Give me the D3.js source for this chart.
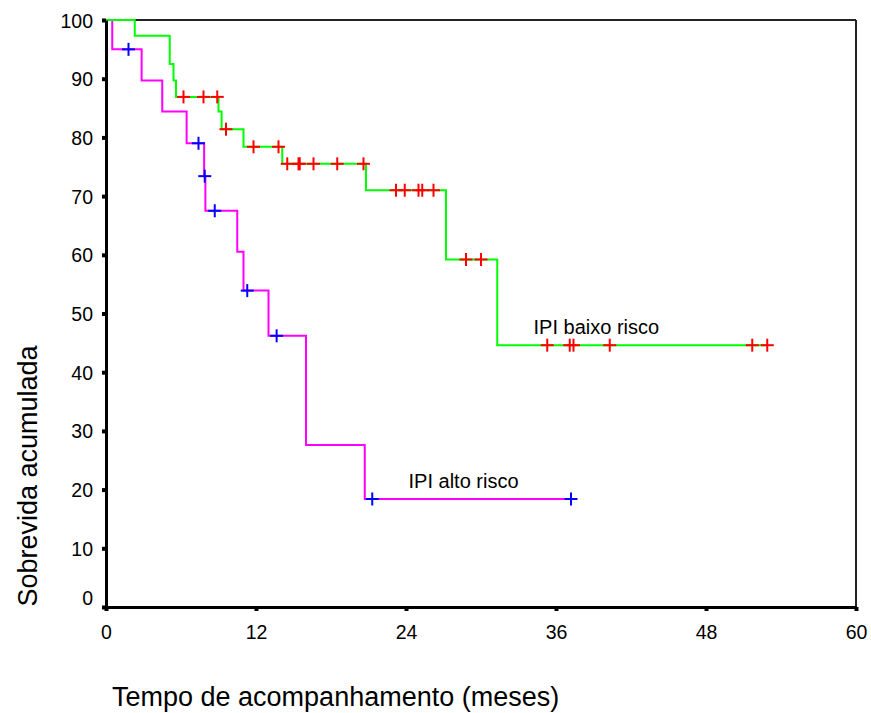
<!DOCTYPE html>
<html>
<head>
<meta charset="utf-8">
<script src="https://cdn.jsdelivr.net/npm/d3@7"></script>
<style>
  html, body { margin: 0; padding: 0; background: #fff; }
  svg { display: block; }
  text { font-family: "Liberation Sans", Arial, sans-serif; fill: #000; }
</style>
</head>
<body>
<svg id="chart" width="871" height="713"></svg>
<script>
// ---------- data ----------
const xTicks = [0, 12, 24, 36, 48, 60];
const yTicks = [0, 10, 20, 30, 40, 50, 60, 70, 80, 90, 100];

// IPI baixo risco (green) – event times (months) and survival (%) after each step
const lowTimes = [0, 2.3, 5.1, 5.4, 5.6, 9.0, 9.25, 11.0, 14.1, 20.8, 27.2, 31.3];
const lowSurv  = [100, 97.3, 92.5, 89.7, 86.9, 84.4, 81.4, 78.4, 75.5, 71.0, 59.2, 44.6];
const lowCensor = [6.2, 7.8, 8.9, 9.6, 11.8, 13.8, 14.5, 15.4, 15.5, 16.6, 18.5, 20.6,
                   23.2, 23.9, 25.0, 25.3, 26.2, 28.8, 30.0, 35.3, 37.1, 37.4, 40.3, 51.7, 52.9];
const lowEnd = 52.9;

// IPI alto risco (magenta)
const highTimes = [0, 0.5, 2.85, 4.5, 6.45, 7.85, 7.95, 10.5, 11.0, 13.0, 16.0, 20.7];
const highSurv  = [100, 95.0, 89.7, 84.4, 79.0, 73.4, 67.5, 60.5, 53.9, 46.2, 27.6, 18.4];
const highCensor = [1.8, 7.4, 7.9, 8.7, 11.3, 13.65, 21.3, 37.2];
const highEnd = 37.2;

const seriesNames = ["IPI baixo risco", "IPI alto risco"];
const labelPos = [[34.2, 46.5], [24.2, 20.3]];

// ---------- layout ----------
const svg = d3.select("#chart");
const mLeft = 106, mRight = 856, mTop = 20, mBottom = 607;
const x = d3.scaleLinear().domain([0, 60]).range([mLeft, mRight]);
const y = d3.scaleLinear().domain([0, 100]).range([mBottom, mTop]);

// frame (top & right)
svg.append("line").attr("x1", mLeft).attr("x2", mRight).attr("y1", mTop).attr("y2", mTop)
  .attr("stroke", "#222").attr("stroke-width", 2);
svg.append("line").attr("x1", mRight).attr("x2", mRight).attr("y1", mTop).attr("y2", mBottom)
  .attr("stroke", "#222").attr("stroke-width", 2);

function survAt(times, surv, t) {
  let v = surv[0];
  for (let i = 0; i < times.length; i++) if (times[i] <= t) v = surv[i];
  return v;
}
function curvePts(times, surv, end) {
  const pts = times.map((t, i) => [t, surv[i]]);
  pts.push([end, surv[surv.length - 1]]);
  return pts;
}
const line = d3.line().x(d => x(d[0])).y(d => y(d[1])).curve(d3.curveStepAfter);

function drawCurve(times, surv, end, color) {
  svg.append("path").datum(curvePts(times, surv, end))
    .attr("d", line).attr("fill", "none")
    .attr("stroke", color).attr("stroke-width", 2);
}
function drawCensor(times, surv, cens, color) {
  const g = svg.append("g");
  cens.forEach(t => {
    const cx = x(t), cy = y(survAt(times, surv, t));
    g.append("line").attr("x1", cx - 6.5).attr("x2", cx + 6.5).attr("y1", cy).attr("y2", cy)
      .attr("stroke", color).attr("stroke-width", 2);
    g.append("line").attr("x1", cx).attr("x2", cx).attr("y1", cy - 6.5).attr("y2", cy + 6.5)
      .attr("stroke", color).attr("stroke-width", 2);
  });
}

drawCurve(highTimes, highSurv, highEnd, "#ff00ff");
drawCurve(lowTimes, lowSurv, lowEnd, "#00ff00");
drawCensor(highTimes, highSurv, highCensor, "#0000ff");
drawCensor(lowTimes, lowSurv, lowCensor, "#ff0000");

// axes
const yAxis = svg.append("g").attr("transform", `translate(${mLeft},0)`)
  .call(d3.axisLeft(y).tickValues(yTicks).tickSize(4).tickPadding(9).tickSizeOuter(0));
yAxis.select(".domain").attr("stroke", "#000").attr("stroke-width", 3);
yAxis.selectAll(".tick line").attr("stroke", "#000").attr("stroke-width", 4);
yAxis.selectAll(".tick text").attr("font-size", 19.5).attr("dy", "0.36em")
  .style("font-family", "Liberation Sans, Arial, sans-serif")
  .attr("transform", d => d === 0 ? "translate(0,-10)" : null);

const xAxis = svg.append("g").attr("transform", `translate(0,${mBottom})`)
  .call(d3.axisBottom(x).tickValues(xTicks).tickSize(4).tickSizeOuter(0));
xAxis.select(".domain").attr("stroke", "#000").attr("stroke-width", 3);
xAxis.selectAll(".tick line").attr("stroke", "#000").attr("stroke-width", 4);
xAxis.selectAll(".tick text").attr("font-size", 19.5).attr("y", 32).attr("dy", 0)
  .style("font-family", "Liberation Sans, Arial, sans-serif");

// series labels
seriesNames.forEach((n, i) => {
  svg.append("text").attr("x", x(labelPos[i][0])).attr("y", y(labelPos[i][1]))
    .attr("font-size", 20).text(n);
});

// axis titles
svg.append("text").attr("x", 112).attr("y", 706).attr("font-size", 27)
  .text("Tempo de acompanhamento (meses)");
svg.append("text").attr("transform", "translate(37,476) rotate(-90)")
  .attr("text-anchor", "middle").attr("font-size", 27)
  .text("Sobrevida acumulada");
</script>
</body>
</html>
